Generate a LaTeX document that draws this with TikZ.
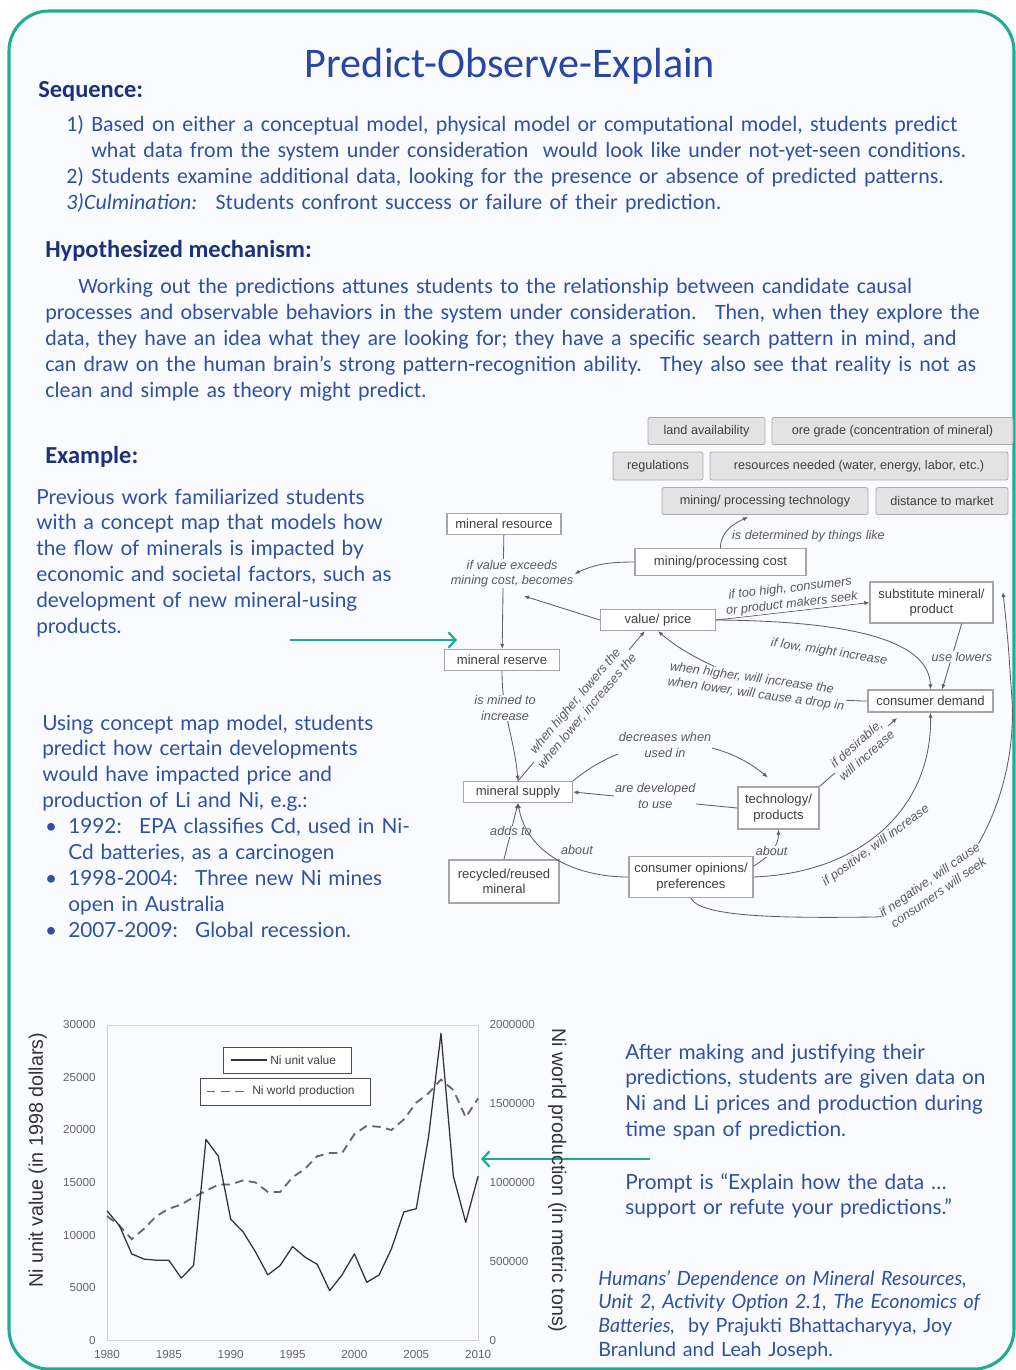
\documentclass[tikz,border=0pt]{standalone}
\usepackage{fontspec}
\setmainfont{Carlito}
\newfontfamily\bodyfont{Lato}
\newfontfamily\mapfont{Liberation Sans}
\usepackage{tikz}
\usetikzlibrary{arrows.meta,positioning,calc}
\definecolor{tealc}{RGB}{30,172,150}
\definecolor{bgcol}{RGB}{250,251,254}
\definecolor{titleblue}{RGB}{40,70,165}
\definecolor{headblue}{RGB}{28,48,125}
\definecolor{textblue}{RGB}{48,80,165}
\definecolor{mapgray}{RGB}{95,95,95}

\tikzset{
  bw/.style={minimum width=#1*0.025cm},
  bh/.style={minimum height=#1*0.025cm},
  heading/.style={anchor=base west, inner sep=0pt, text=headblue, font=\fontsize{17.4}{20}\selectfont\bfseries},
  toptext/.style={anchor=base west, inner sep=0pt, text=textblue, align=left, text width=24cm, font=\fontsize{15.6}{18.5}\selectfont},
  bodytext/.style={anchor=base west, inner sep=0pt, text=textblue, align=left, text width=11cm, font=\bodyfont\fontsize{14.8}{18.4}\selectfont},
  factor/.style={draw=gray!65, fill=gray!22, rounded corners=1.5pt, line width=0.6pt, text=black!75, font=\mapfont\fontsize{9}{10}\selectfont, inner sep=1pt},
  concept/.style={draw=gray!70, fill=white, line width=0.9pt, text=black!75, align=center, font=\mapfont\fontsize{9.3}{11}\selectfont, inner sep=1pt},
  link/.style={draw=mapgray, line width=0.6pt, -{Latex[length=3.6pt,width=3pt]}},
  lbl/.style={fill=bgcol, inner sep=0.6pt, text=black!65, align=center, font=\mapfont\itshape\fontsize{9}{11}\selectfont},
  tealarrow/.style={draw=tealc, line width=1.6pt, -{Straight Barb[length=5pt,width=11pt]}},
  ticklbl/.style={text=black!60, inner sep=0pt, font=\mapfont\fontsize{8.3}{9}\selectfont},
  axislbl/.style={text=black!80, inner sep=0pt, font=\mapfont\fontsize{14}{16}\selectfont},
  legbox/.style={draw=black!70, line width=0.5pt, inner sep=0pt},
  legtxt/.style={text=black!75, inner sep=0pt, font=\mapfont\fontsize{8.5}{9}\selectfont},
  nival/.style={draw=black!80, line width=0.9pt, line join=round},
  niprod/.style={draw=black!60, line width=1.3pt, dash pattern=on 6pt off 4pt},
}

\begin{document}
\begin{tikzpicture}[x=0.025cm, y=-0.025cm]
    \useasboundingbox (0,0) rectangle (1016,1370);
    % frame
    \draw [tealc, line width=2.2pt, fill=bgcol, rounded corners=1cm] (9,11) rectangle (1014,1369);

    % title and text blocks
    \node [anchor=base, inner sep=0pt, text=titleblue, font=\fontsize{30}{34}\selectfont] (title) at (510,77) {Predict-Observe-Explain};
    \node [heading] (seqhead) at (38,97) {Sequence:};
    \node [toptext] (seqlist) at (66,131) {\makebox[17.8pt][l]{1)}Based on either a conceptual model, physical model or computational model, students predict\\
      \hspace*{17.8pt}what data from the system under consideration~ would look like under not-yet-seen conditions.\\
      \makebox[17.8pt][l]{2)}Students examine additional data, looking for the presence or absence of predicted patterns.\\
      \textit{3)Culmination:}~ Students confront success or failure of their prediction.};

    \node [heading] (mechhead) at (45,257) {Hypothesized mechanism:};
    \node [toptext] (mechtext) at (45,293) {\hspace*{23.5pt}Working out the predictions attunes students to the relationship between candidate causal\\
      processes and observable behaviors in the system under consideration.~ Then, when they explore the\\
      data, they have an idea what they are looking for; they have a specific search pattern in mind, and\\
      can draw on the human brain’s strong pattern-recognition ability.~ They also see that reality is not as\\
      clean and simple as theory might predict.};

    \node [heading] (exhead) at (45,463) {Example:};
    \node [bodytext] (prevtext) at (36,504) {Previous work familiarized students\\
      with a concept map that models how\\
      the flow of minerals is impacted by\\
      economic and societal factors, such as\\
      development of new mineral-using\\
      products.};
    \node [bodytext] (predtext) at (42,730) {Using concept map model, students\\
      predict how certain developments\\
      would have impacted price and\\
      production of Li and Ni, e.g.:\\
      \hspace*{2pt}\makebox[16.5pt][l]{•}1992:~ EPA classifies Cd, used in Ni-\\
      \hspace*{18.5pt}Cd batteries, as a carcinogen\\
      \hspace*{2pt}\makebox[16.5pt][l]{•}1998-2004:~ Three new Ni mines\\
      \hspace*{18.5pt}open in Australia\\
      \hspace*{2pt}\makebox[16.5pt][l]{•}2007-2009:~ Global recession.};

    \node [bodytext] (aftertext) at (625,1059) {After making and justifying their\\
      predictions, students are given data on\\
      Ni and Li prices and production during\\
      time span of prediction.};
    \node [bodytext] (prompttext) at (625,1189) {Prompt is “Explain how the data …\\
      support or refute your predictions.”};
    \node [bodytext, font=\bodyfont\fontsize{14}{16.9}\selectfont] (credit) at (598,1285) {\textit{Humans’ Dependence on Mineral Resources,}\\
      \textit{Unit 2, Activity Option 2.1, The Economics of}\\
      \textit{Batteries,}~ by Prajukti Bhattacharyya, Joy\\
      Branlund and Leah Joseph.};

    % concept map: factors
    \node [factor, bw=117, bh=27] (landav) at (706.5,431) {land availability};
    \node [factor, bw=241, bh=27] (oregrade) at (892.5,431) {ore grade (concentration of mineral)};
    \node [factor, bw=90, bh=28] (regul) at (658,466) {regulations};
    \node [factor, bw=298, bh=28] (resneed) at (859,466) {resources needed (water, energy, labor, etc.)};
    \node [factor, bw=206, bh=27] (mintech) at (765,501) {mining/ processing technology};
    \node [factor, bw=132, bh=27] (distmkt) at (942,501) {distance to market};

    % concept map: concepts
    \node [concept, bw=114, bh=21] (minres) at (504,524) {mineral resource};
    \node [concept, bw=171, bh=27] (mincost) at (720.5,562) {mining/processing cost};
    \node [concept, bw=115, bh=21] (price) at (658,620) {value/ price};
    \node [concept, bw=123, bh=41] (subst) at (931.5,602.5) {substitute mineral/\\product};
    \node [concept, bw=115, bh=21] (minresv) at (502,660) {mineral reserve};
    \node [concept, bw=125, bh=22] (demand) at (930.5,701) {consumer demand};
    \node [concept, bw=109, bh=21] (supply) at (518,792) {mineral supply};
    \node [concept, bw=81, bh=42] (techprod) at (778.5,808) {technology/\\products};
    \node [concept, bw=110, bh=43] (recyc) at (504,881.5) {recycled/reused\\mineral};
    \node [concept, bw=124, bh=41] (opinion) at (691,877) {consumer opinions/\\preferences};

    % concept map: links
    \draw [link] (minres) -- node [lbl, pos=0.34, xshift=0.22cm] (valuelbl) {if value exceeds\\mining cost, becomes} (minresv);
    \coordinate (valuedot) at (524,596);
    \draw [link] (mincost.west) to [out=180, in=25] (valuelbl.east);
    \draw [link] (price.west) -- (valuedot);
    \coordinate (detdot) at (748,517);
    \draw [link] (mincost.north) to [out=90, in=205] (detdot);
    \node [lbl, fill=none, anchor=west] (detlbl) at (731,536) {is determined by things like};
    \draw [link] (price.east) -- node [lbl, sloped, above, pos=0.5] (highlbl) {if too high, consumers\\or product makers seek} (subst.west);
    \draw [link] (subst.-35) -- node [lbl, pos=0.5, xshift=0.25cm] (uselbl) {use lowers} (demand.45);
    \draw [link] (price.east) .. controls (850,621) and (929,640) .. (demand.north);
    \node [lbl, fill=none, rotate=-9] (lowlbl) at (829,652) {if low, might increase};
    \draw [link] (demand.west) .. controls (790,701) and (700,668) .. (price.south);
    \node [lbl, rotate=-8, align=left] (higherlbl) at (757,687) {when higher, will increase the\\when lower, will cause a drop in};
    \draw [link] (supply.north) -- node [lbl, sloped, pos=0.5] (lowerslbl) {when higher, lowers the\\when lower, increases the} (price.-140);
    \draw [link] (minresv) to [out=-90, in=95] node [lbl, pos=0.32] (minedlbl) {is mined to\\increase} (supply.north);
    \draw [link, shorten >=0.35cm] (supply.north east) to [out=40, in=140] node [lbl, pos=0.45] (decrlbl) {decreases when\\used in} (techprod.north);
    \draw [link] (techprod.west) -- node [lbl, pos=0.5, yshift=0.1cm] (devlbl) {are developed\\to use} (supply.east);
    \draw [link] (recyc.north) -- node [lbl, pos=0.5] (addlbl) {adds to} (supply.south);
    \draw [link, shorten >=0.2cm] (techprod.north east) -- node [lbl, sloped, pos=0.5] (desirlbl) {if desirable,\\will increase} (demand.-157);
    \draw [link] (opinion.east) .. controls (860,873) and (932,810) .. (demand.south);
    \node [lbl, fill=none, rotate=36] (poslbl) at (876,846) {if positive, will increase};
    \draw [link] (opinion.west) to [out=180, in=-80] (supply.south);
    \node [lbl, fill=none] (about1) at (577,850) {about};
    \draw [link] (opinion.10) to [out=30, in=-90] node [lbl, pos=0.5] (about2) {about} (techprod.south);
    \coordinate (seekdot) at (1003,592);
    \draw [link] (opinion.south) .. controls (700,918) and (790,918) .. (874,917) .. controls (960,915) and (1018,800) .. (1012,700) .. controls (1008,640) .. (seekdot);
    \node [lbl, rotate=35] (neglbl) at (934,886) {if negative, will cause\\consumers will seek};

    % teal pointers
    \coordinate (mapfrom) at (290,640);
    \coordinate (mapto) at (457,640);
    \draw [tealarrow] (mapfrom) -- (mapto);
    \coordinate (plotfrom) at (650,1159);
    \coordinate (plotto) at (481,1159);
    \draw [tealarrow] (plotfrom) -- (plotto);

    % chart
    \begin{scope}[shift={(107,1340)}, x=0.30917cm, y=0.2625cm]
      \draw [gray!35, line width=0.4pt] (0,0) rectangle (30,30);
      \foreach \p/\v in {0/0, 5/5000, 10/10000, 15/15000, 20/20000, 25/25000, 30/30000}
        \node [ticklbl, anchor=east] (ytick\v) at (-0.9,\p) {\v};
      \foreach \p/\lab in {0/0, 7.5/500000, 15/1000000, 22.5/1500000, 30/2000000}
        \node [ticklbl, anchor=west] (rtick\lab) at (30.9,\p) {\lab};
      \foreach \p/\yr in {0/1980, 5/1985, 10/1990, 15/1995, 20/2000, 25/2005, 30/2010}
        \node [ticklbl, anchor=north] (xtick\yr) at (\p,-1.0) {\yr};
      \node [axislbl, rotate=90] (ylabel) at (-5.6,17.1) {Ni unit value (in 1998 dollars)};
      \node [axislbl, rotate=-90] (y2label) at (36.4,15.2) {Ni world production (in metric tons)};
      \draw [niprod] plot coordinates {(0,11.8) (1,10.9) (2,9.6) (3,10.6) (4,11.8) (5,12.5) (6,12.9) (7,13.6) (8,14.2) (9,14.8) (10,14.8) (11,15.2) (12,15) (13,14.1) (14,14.1) (15,15.5) (16,16.3) (17,17.5) (18,17.8) (19,17.8) (20,19.6) (21,20.4) (22,20.3) (23,20) (24,21) (25,22.6) (26,23.5) (27,24.8) (28,23.8) (29,21.2) (30,23)};
      \draw [nival] plot coordinates {(0,12.3) (1,10.9) (2,8.2) (3,7.7) (4,7.6) (5,7.6) (6,5.9) (7,7.1) (8,19.1) (9,17.5) (10,11.5) (11,10.3) (12,8.4) (13,6.2) (14,7.1) (15,8.9) (16,7.9) (17,7.2) (18,4.7) (19,6.2) (20,8.2) (21,5.5) (22,6.2) (23,8.7) (24,12.2) (25,12.5) (26,19.4) (27,29.2) (28,15.6) (29,11.2) (30,15.6)};
    \end{scope}

    % legend
    \node [legbox, fill=white, bw=128, bh=26] (legval) at (287,1060) {};
    \draw [nival] (231,1060) -- (267,1060);
    \node [legtxt, anchor=west] (legvaltxt) at (270,1060) {Ni unit value};
    \node [legbox, fill=white, bw=170, bh=27] (legprod) at (285,1091.5) {};
    \draw [niprod] (207,1091.5) -- (247,1091.5);
    \node [legtxt, anchor=west] (legprodtxt) at (252,1091.5) {Ni world production};
\end{tikzpicture}
\end{document}
